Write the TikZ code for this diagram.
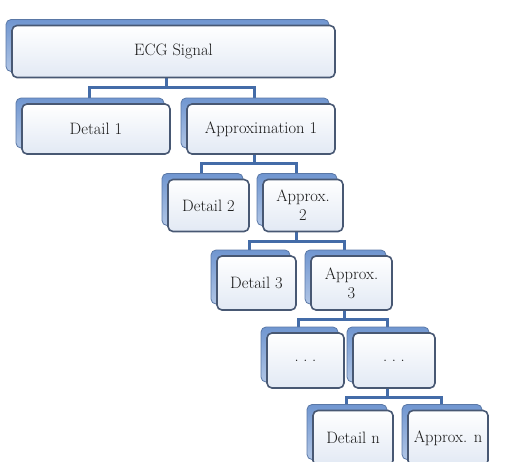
\documentclass[tikz,border=0pt]{standalone}
\usepackage{fontspec}
\usepackage{tikz}
\usetikzlibrary{shadows,backgrounds}
\definecolor{boxline}{RGB}{72, 88, 115}
\definecolor{boxfill}{RGB}{226, 233, 244}
\definecolor{shadowblue}{RGB}{112, 150, 208}
\definecolor{linkblue}{RGB}{68, 108, 168}
\definecolor{textgray}{RGB}{25, 25, 25}

\begin{document}
\begin{tikzpicture}[x = 1pt, y = -1pt,
	block/.style = {draw = boxline, line width = 1.6pt, rounded corners = 5pt, top color = white, bottom color = boxfill, text = textgray, font = \fontsize{16.5}{19}\selectfont, align = center, inner sep = 0pt, minimum height = 52pt,
		general shadow = {shadow xshift = -6pt, shadow yshift = 6pt, top color = shadowblue, bottom color = shadowblue!55!white, draw = shadowblue!80!black, line width = 0.8pt}},
	link/.style = {draw = linkblue, line width = 3pt}]
	\clip (0,0) rectangle (508,461);
	\useasboundingbox (0,0) rectangle (508,461);
	\node (ecg) at (173.5,51.5) [block, minimum width = 323pt] {ECG Signal};
	\node (det1) at (96,129) [block, minimum width = 148pt, minimum height = 50pt] {Detail 1};
	\node (app1) at (261,129) [block, minimum width = 148pt, minimum height = 50pt] {Approximation 1};
	\node (det2) at (208.5,205.5) [block, minimum width = 81pt] {Detail 2};
	\node (app2) at (303,205.5) [block, minimum width = 80pt] {Approx.\\2};
	\node (det3) at (256.5,283) [block, minimum width = 79pt, minimum height = 54pt] {Detail 3};
	\node (app3) at (351.5,283) [block, minimum width = 81pt, minimum height = 54pt] {Approx.\\3};
	\node (dots1) at (305.5,360.5) [block, minimum width = 77pt, minimum height = 55pt] {.\;.\;.};
	\node (dots2) at (394,360.5) [block, minimum width = 82pt, minimum height = 55pt] {.\;.\;.};
	\node (detn) at (353,438) [block, minimum width = 80pt, minimum height = 55pt] {Detail n};
	\node (appn) at (448,438) [block, minimum width = 80pt, minimum height = 55pt] {Approx. n};
	\begin{scope}[on background layer]
		\draw[link] ([xshift = -7pt]ecg.south) -- ++(0,9) coordinate (bus1);
		\draw[link] ([xshift = -7pt]det1.north) |- (bus1);
		\draw[link] ([xshift = -7pt]app1.north) |- (bus1);
		\draw[link] ([xshift = -7pt]app1.south) -- ++(0,9) coordinate (bus2);
		\draw[link] ([xshift = -7pt]det2.north) |- (bus2);
		\draw[link] ([xshift = -7pt]app2.north) |- (bus2);
		\draw[link] ([xshift = -7pt]app2.south) -- ++(0,9) coordinate (bus3);
		\draw[link] ([xshift = -7pt]det3.north) |- (bus3);
		\draw[link] ([xshift = -7pt]app3.north) |- (bus3);
		\draw[link] ([xshift = -7pt]app3.south) -- ++(0,9) coordinate (bus4);
		\draw[link] ([xshift = -7pt]dots1.north) |- (bus4);
		\draw[link] ([xshift = -7pt]dots2.north) |- (bus4);
		\draw[link] ([xshift = -7pt]dots2.south) -- ++(0,9) coordinate (bus5);
		\draw[link] ([xshift = -7pt]detn.north) |- (bus5);
		\draw[link] ([xshift = -7pt]appn.north) |- (bus5);
	\end{scope}
\end{tikzpicture}
\end{document}
